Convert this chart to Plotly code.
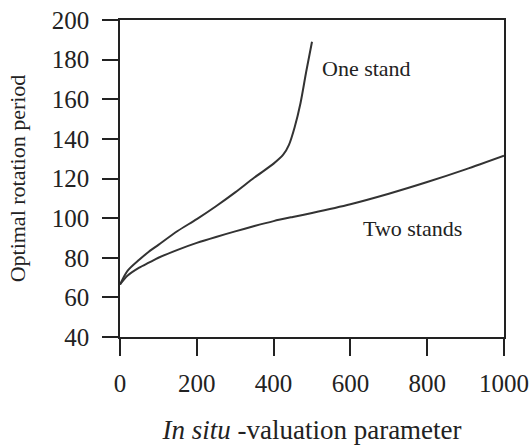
import plotly.graph_objects as go

# Data
x_one = [0, 20, 50, 75, 100, 150, 200, 250, 300, 350, 400, 425, 440, 455, 470, 485, 500]
y_one = [66.5, 73.5, 79, 83, 86.5, 93.5, 99.5, 106, 113, 120.5, 127.5, 132, 137, 146, 158, 174, 189]

x_two = [0, 20, 50, 75, 100, 150, 200, 250, 300, 350, 400, 450, 500, 600, 700, 800, 900, 1000]
y_two = [66.5, 71, 75, 77.5, 80, 84, 87.5, 90.5, 93.3, 96, 98.5, 100.6, 102.6, 107, 112.3, 118.2, 124.6, 131.5]

x_ticks = [0, 200, 400, 600, 800, 1000]
y_ticks = [40, 60, 80, 100, 120, 140, 160, 180, 200]

labels = ["One stand", "Two stands"]
label_x = [522, 628]
label_y = [175.5, 95]

FONT = "Liberation Serif, Times New Roman, serif"
LINE = "#333333"

fig = go.Figure()
fig.add_trace(go.Scatter(x=x_one, y=y_one, mode="lines", line=dict(color=LINE, width=2, shape="spline", smoothing=0.8), showlegend=False))
fig.add_trace(go.Scatter(x=x_two, y=y_two, mode="lines", line=dict(color=LINE, width=2, shape="spline", smoothing=0.8), showlegend=False))

for t, lx, ly in zip(labels, label_x, label_y):
    fig.add_annotation(x=lx, y=ly, text=t, showarrow=False, xanchor="left", yanchor="middle",
                       font=dict(family=FONT, size=22, color="#222"))

fig.update_layout(
    width=532, height=448,
    margin=dict(l=120, r=28, t=20, b=111, autoexpand=False),
    paper_bgcolor="white", plot_bgcolor="white",
    font=dict(family=FONT, size=22, color="#222"),
)
fig.update_xaxes(range=[0, 1000], tickvals=x_ticks, ticks="outside", ticklen=17, tickwidth=1.5,
                 tickcolor="#222", showline=True, linecolor="#222", linewidth=1.5, mirror=True,
                 showgrid=False, zeroline=False, ticklabelstandoff=6, automargin=False,
                 ticklabeloverflow="allow", tickfont=dict(size=25),
                 title=dict(text="<i>In situ</i> -valuation parameter", standoff=24, font=dict(size=27)))
fig.update_yaxes(range=[40, 200], tickvals=y_ticks, ticks="outside", ticklen=16, tickwidth=1.5,
                 tickcolor="#222", showline=True, linecolor="#222", linewidth=1.5, mirror=True,
                 showgrid=False, zeroline=False, ticklabelstandoff=8, automargin=False,
                 ticklabeloverflow="allow", tickfont=dict(size=25),
                 title=dict(text="Optimal rotation period", standoff=20, font=dict(size=22)))

fig.write_html("out.html", config={"displayModeBar": False},
               post_script="document.body.style.margin='0';document.body.style.overflow='hidden';")
